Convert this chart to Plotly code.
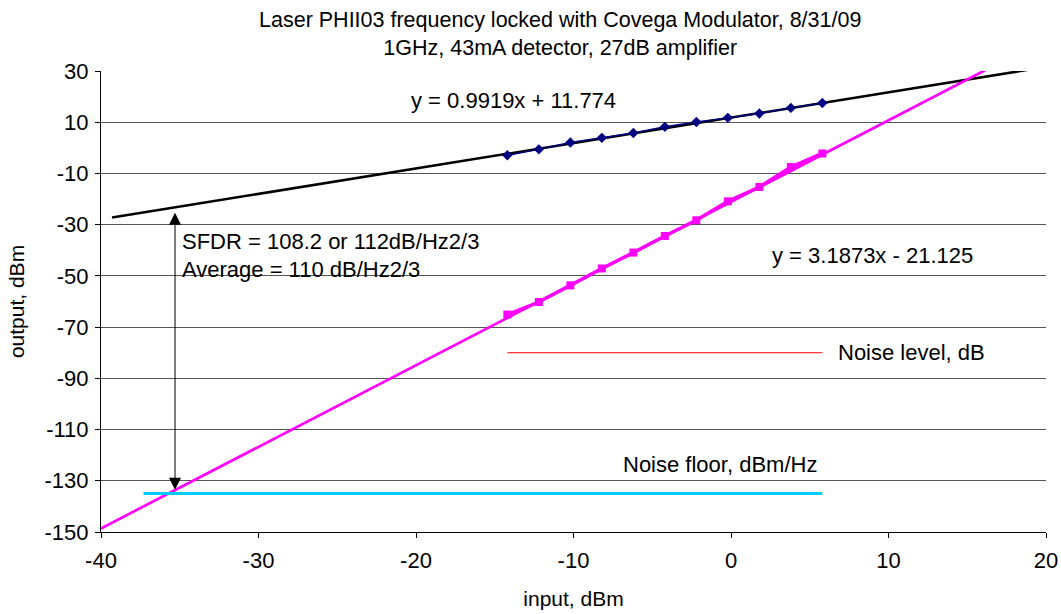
import plotly.graph_objects as go

# Data
input_dbm = [-14.2, -12.2, -10.2, -8.2, -6.2, -4.2, -2.2, -0.2, 1.8, 3.8, 5.8]
fundamental = [-2.9, -0.6, 2.1, 3.9, 5.8, 8.2, 10.1, 11.7, 13.4, 15.6, 17.5]
imd3 = [-65.1, -60.2, -53.7, -47.1, -40.9, -34.4, -28.3, -20.9, -15.3, -7.5, -2.2]

fund_slope, fund_icept = 0.9919, 11.774
imd_slope, imd_icept = 3.1873, -21.125
fund_trend_x = [-39.3, 20.0]
imd_trend_x = [-40.0, 17.0]

noise_level_x = [-14.2, 5.8]
noise_level_y = [-80, -80]
noise_floor_x = [-37.3, 5.8]
noise_floor_y = [-135, -135]

x_ticks = [-40, -30, -20, -10, 0, 10, 20]
y_ticks = list(range(-150, 31, 20))

sfdr_x = -35.3
sfdr_top = fund_slope * sfdr_x + fund_icept
sfdr_bottom = -135

FONT = "Liberation Sans, Arial, sans-serif"
FS = 22

fig = go.Figure()

fig.add_trace(go.Scatter(x=fund_trend_x, y=[fund_slope * v + fund_icept for v in fund_trend_x],
                         mode="lines", line=dict(color="black", width=2.5), hoverinfo="skip"))
fig.add_trace(go.Scatter(x=imd_trend_x, y=[imd_slope * v + imd_icept for v in imd_trend_x],
                         mode="lines", line=dict(color="#FF00FF", width=2.7), hoverinfo="skip"))
fig.add_trace(go.Scatter(x=input_dbm, y=fundamental, mode="lines+markers",
                         line=dict(color="#000080", width=1.5),
                         marker=dict(symbol="diamond", size=8, color="#000080")))
fig.add_trace(go.Scatter(x=input_dbm, y=imd3, mode="lines+markers",
                         line=dict(color="#FF00FF", width=3.5),
                         marker=dict(symbol="square", size=8, color="#FF00FF")))
fig.add_trace(go.Scatter(x=noise_level_x, y=noise_level_y, mode="lines",
                         line=dict(color="#FF0000", width=1)))
fig.add_trace(go.Scatter(x=noise_floor_x, y=noise_floor_y, mode="lines",
                         line=dict(color="#00CCFF", width=3)))

# double-headed SFDR arrow
fig.add_annotation(x=sfdr_x, y=sfdr_bottom + 1.5, ax=sfdr_x, ay=sfdr_top - 1.5,
                   xref="x", yref="y", axref="x", ayref="y", text="",
                   showarrow=True, arrowhead=2, arrowsize=2.4, arrowwidth=1,
                   arrowcolor="black", arrowside="end+start")

txt = dict(showarrow=False, xref="paper", yref="paper", font=dict(family=FONT, size=FS, color="black"),
           xanchor="left", yanchor="middle")
def px(xp, yp):
    return dict(x=(xp - 101) / (1046 - 101), y=(531.6 - yp) / (531.6 - 70.8))

fig.add_annotation(text="y = 0.9919x + 11.774", **px(409, 100), **txt)
fig.add_annotation(text="y = 3.1873x - 21.125", **px(770, 255), **txt)
fig.add_annotation(text="SFDR = 108.2 or 112dB/Hz2/3", **px(180, 241), **txt)
fig.add_annotation(text="Average = 110 dB/Hz2/3", **px(180, 269), **txt)
fig.add_annotation(text="Noise level, dB", **px(836, 352), **txt)
fig.add_annotation(text="Noise floor, dBm/Hz", **px(621, 464), **txt)

fig.update_layout(
    width=1061, height=614,
    margin=dict(l=101, r=15, t=70.8, b=82.4),
    paper_bgcolor="white", plot_bgcolor="white",
    showlegend=False,
    font=dict(family=FONT, size=FS, color="black"),
    title=dict(text="Laser PHII03 frequency locked with Covega Modulator, 8/31/09<br>1GHz, 43mA detector, 27dB amplifier",
               x=0.528, xanchor="center", xref="container", yref="container",
               y=1 - 27 / 614, yanchor="middle",
               font=dict(family=FONT, size=21.5, color="black")),
    xaxis=dict(range=[-40, 20], tickvals=x_ticks, ticktext=[str(v) for v in x_ticks], showgrid=False,
               zeroline=False, showline=True, linecolor="black", linewidth=1, automargin=False,
               ticks="outside", ticklen=5, tickcolor="black", ticklabelstandoff=4,
               title=dict(text="input, dBm", standoff=18, font=dict(size=21))),
    yaxis=dict(range=[-150, 30], tickvals=y_ticks, ticktext=[str(v) for v in y_ticks], showgrid=True,
               gridcolor="#555555", gridwidth=1, zeroline=False, showline=True, automargin=False,
               linecolor="black", linewidth=1, ticks="outside", ticklen=5, tickcolor="black",
               ticklabelstandoff=2,
               title=dict(text="output, dBm", standoff=14, font=dict(size=21))),
)

fig.write_html("out.html")
